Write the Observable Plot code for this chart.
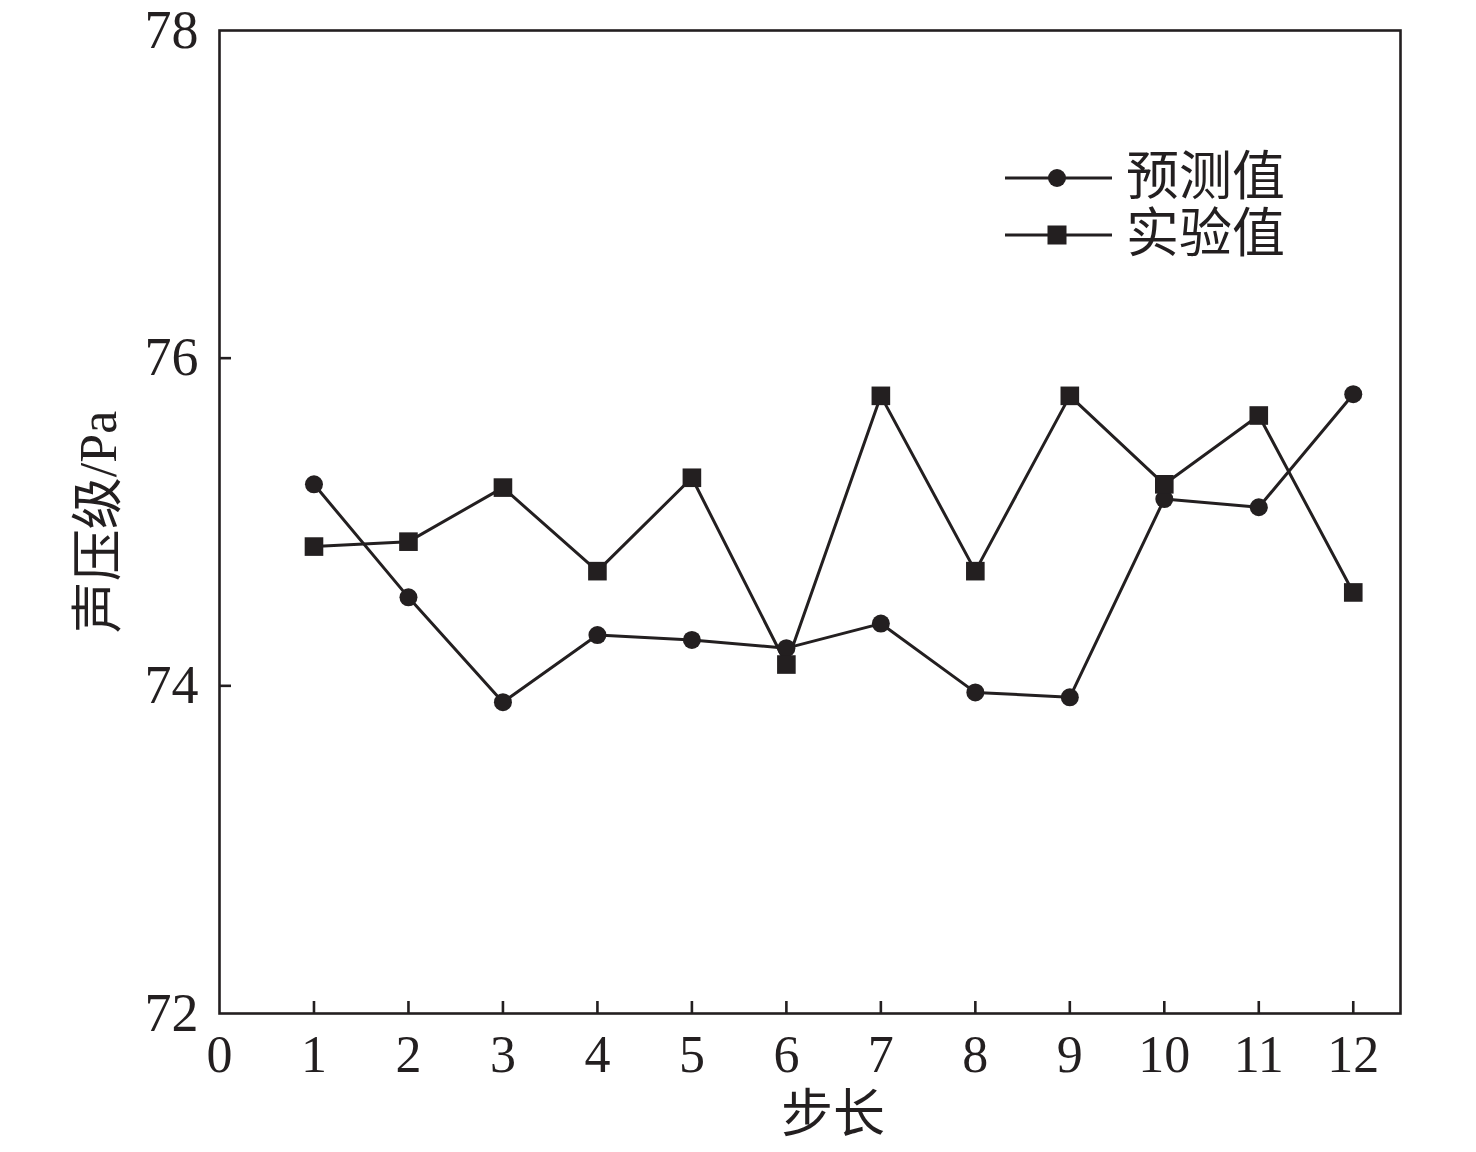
<!DOCTYPE html>
<html>
<head>
<meta charset="utf-8">
<script src="https://cdn.jsdelivr.net/npm/d3@7"></script>
<script src="https://cdn.jsdelivr.net/npm/@observablehq/plot@0.6"></script>
<style>
  html, body { margin: 0; padding: 0; background: #fff; }
  #wrap { position: relative; width: 1476px; height: 1152px; }
  #legend { position: absolute; left: 1000px; top: 149px; font-family: "Liberation Serif", "Noto Sans CJK SC", serif; color: #231f20; }
  .row { display: flex; align-items: center; height: 57px; overflow: visible; }
  .row span { font-size: 53px; margin-left: 12px; line-height: 1; }
</style>
</head>
<body>
<div id="wrap">
  <div id="chart"></div>
  <div id="legend"></div>
</div>
<script>
const steps = [1, 2, 3, 4, 5, 6, 7, 8, 9, 10, 11, 12];
const predicted = [75.23, 74.54, 73.90, 74.31, 74.28, 74.23, 74.38, 73.96, 73.93, 75.14, 75.09, 75.78];
const experimental = [74.85, 74.88, 75.21, 74.70, 75.27, 74.13, 75.77, 74.70, 75.77, 75.23, 75.65, 74.57];
const seriesNames = ["预测值", "实验值"];
const xTickLabels = [0, 1, 2, 3, 4, 5, 6, 7, 8, 9, 10, 11, 12];
const yTickLabels = [72, 74, 76, 78];
const xTitle = "步长";
const yTitle = "声压级/Pa";

const ink = "#231f20";
const font = '"Liberation Serif", "Noto Sans CJK SC", serif';

const predData = steps.map((s, i) => ({step: s, value: predicted[i]}));
const expData = steps.map((s, i) => ({step: s, value: experimental[i]}));

const chart = Plot.plot({
  width: 1476,
  height: 1152,
  marginLeft: 219,
  marginRight: 76,
  marginTop: 30,
  marginBottom: 139,
  style: {fontFamily: font, color: ink, background: "#fff"},
  x: {domain: [0, 12.5]},
  y: {domain: [72, 78]},
  marks: [
    Plot.frame({stroke: ink, strokeWidth: 2.6}),
    Plot.axisY(yTickLabels, {tickSize: 0, tickPadding: 21, fontSize: 54, label: null, fill: ink, tickFormat: d3.format("d")}),
    Plot.axisY(yTickLabels.slice(1, -1), {tickSize: 12, dx: 12, text: null, label: null, stroke: ink, strokeWidth: 2.6}),
    Plot.axisX(xTickLabels, {tickSize: 0, tickPadding: 22, fontSize: 52, label: null, fill: ink, lineAnchor: "top", tickFormat: d3.format("d")}),
    Plot.axisX(steps, {tickSize: 12, dy: -12, text: null, label: null, stroke: ink, strokeWidth: 2.6}),
    Plot.line(predData, {x: "step", y: "value", stroke: ink, strokeWidth: 3}),
    Plot.line(expData, {x: "step", y: "value", stroke: ink, strokeWidth: 3}),
    Plot.dot(predData, {x: "step", y: "value", r: 9, fill: ink, symbol: "circle"}),
    Plot.dot(expData, {x: "step", y: "value", r: 10.5, fill: ink, symbol: "square"}),
    Plot.text([xTitle], {frameAnchor: "bottom", dx: 23, dy: 102, fontSize: 52, fill: ink, lineAnchor: "middle"}),
    Plot.text([yTitle], {frameAnchor: "left", dx: -120, rotate: -90, fontSize: 52, fill: ink, textAnchor: "middle"})
  ]
});
document.getElementById("chart").appendChild(chart);

const legend = document.getElementById("legend");
const markers = ["circle", "square"];
seriesNames.forEach((name, i) => {
  const row = document.createElement("div");
  row.className = "row";
  const sym = markers[i] === "circle"
    ? `<circle cx="57" cy="15" r="9" fill="${ink}"/>`
    : `<rect x="47.5" y="5.5" width="19" height="19" fill="${ink}"/>`;
  row.innerHTML = `<svg width="114" height="30"><line x1="5" x2="112" y1="15" y2="15" stroke="${ink}" stroke-width="3"/>${sym}</svg><span>${name}</span>`;
  legend.appendChild(row);
});
</script>
</body>
</html>
